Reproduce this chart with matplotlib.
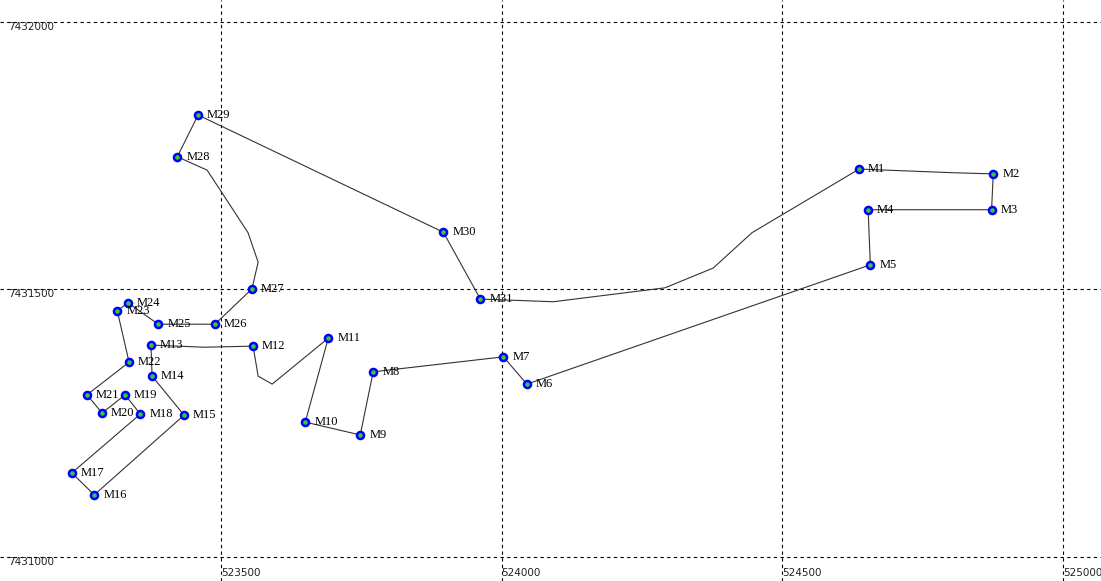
import matplotlib
matplotlib.use("Agg")
from matplotlib import pyplot as plt
from matplotlib import transforms

# 측점 (이름, 동향 X, 북향 Y)
names = ["M1", "M2", "M3", "M4", "M5", "M6", "M7", "M8", "M9", "M10",
         "M11", "M12", "M13", "M14", "M15", "M16", "M17", "M18", "M19", "M20",
         "M21", "M22", "M23", "M24", "M25", "M26", "M27", "M28", "M29", "M30", "M31"]
px = [524637, 524876, 524873, 524653, 524657, 524045, 524003, 523771, 523748, 523650,
      523691, 523557, 523375, 523377, 523434, 523274, 523234, 523356, 523329, 523288,
      523261, 523336, 523315, 523334, 523388, 523489, 523555, 523422, 523459, 523896, 523962]
py = [7431725, 7431716, 7431649, 7431649, 7431546, 7431323, 7431374, 7431346, 7431228, 7431252,
      7431409, 7431394, 7431396, 7431338, 7431265, 7431116, 7431157, 7431267, 7431303, 7431269,
      7431303, 7431364, 7431460, 7431475, 7431435, 7431435, 7431501, 7431748, 7431826, 7431607, 7431482]

# 경로 (중간 꺾임점 포함)
route_x = [524637, 524710, 524808, 524876, 524873, 524653, 524657, 524045, 524003, 523771,
           523748, 523650, 523691, 523591, 523566, 523557, 523470, 523375, 523377, 523434,
           523274, 523234, 523356, 523329, 523288, 523261, 523336, 523315, 523334, 523388,
           523489, 523555, 523566, 523548, 523502, 523475, 523422, 523459, 523896, 523962,
           524092, 524291, 524377, 524446, 524637]
route_y = [7431725, 7431722, 7431718, 7431716, 7431649, 7431649, 7431546, 7431323, 7431374, 7431346,
           7431228, 7431252, 7431409, 7431323, 7431338, 7431394, 7431392, 7431396, 7431338, 7431265,
           7431116, 7431157, 7431267, 7431303, 7431269, 7431303, 7431364, 7431460, 7431475, 7431435,
           7431435, 7431501, 7431551, 7431606, 7431680, 7431723, 7431748, 7431826, 7431607, 7431482,
           7431477, 7431503, 7431540, 7431606, 7431725]

xgrid = [523500, 524000, 524500, 525000]
ygrid = [7431000, 7431500, 7432000]
xlabels = ["523500", "524000", "524500", "525000"]
ylabels = ["7431000", "7431500", "7432000"]

fig = plt.figure(figsize=(11.01, 5.81), dpi=100)
ax = fig.add_axes([0, 0, 1, 1])
ax.set_xlim(523106, 525068)
ax.set_ylim(7430955, 7432041)
ax.axis("off")

for gx in xgrid:
    ax.axvline(gx, color="black", lw=0.8, ls=(0, (3, 3)), zorder=0)
for gy in ygrid:
    ax.axhline(gy, color="black", lw=0.8, ls=(0, (3, 3)), zorder=0)

# 눈금 라벨
tb = transforms.blended_transform_factory(ax.transAxes, ax.transData)
for gy, lab in zip(ygrid, ylabels):
    ax.text(0.007, gy, lab, transform=tb, fontsize=7.5, family="DejaVu Sans",
            va="top", ha="left", color="#222222")
tx = transforms.blended_transform_factory(ax.transData, ax.transAxes)
for gx, lab in zip(xgrid, xlabels):
    ax.text(gx, 0.005, lab, transform=tx, fontsize=7.5, family="DejaVu Sans",
            va="bottom", ha="left", color="#222222")

ax.plot(route_x, route_y, color="#333333", lw=0.8, zorder=2)
ax.scatter(px, py, s=26, facecolor="#33cc33", edgecolor="#0000ff", linewidth=1.8, zorder=3)

for n, x, y in zip(names, px, py):
    ax.annotate(n, (x, y), xytext=(6.5, 0), textcoords="offset points",
                fontsize=9, family="Liberation Serif", va="center", ha="left", zorder=4)

fig.savefig("out.png", dpi=100)
